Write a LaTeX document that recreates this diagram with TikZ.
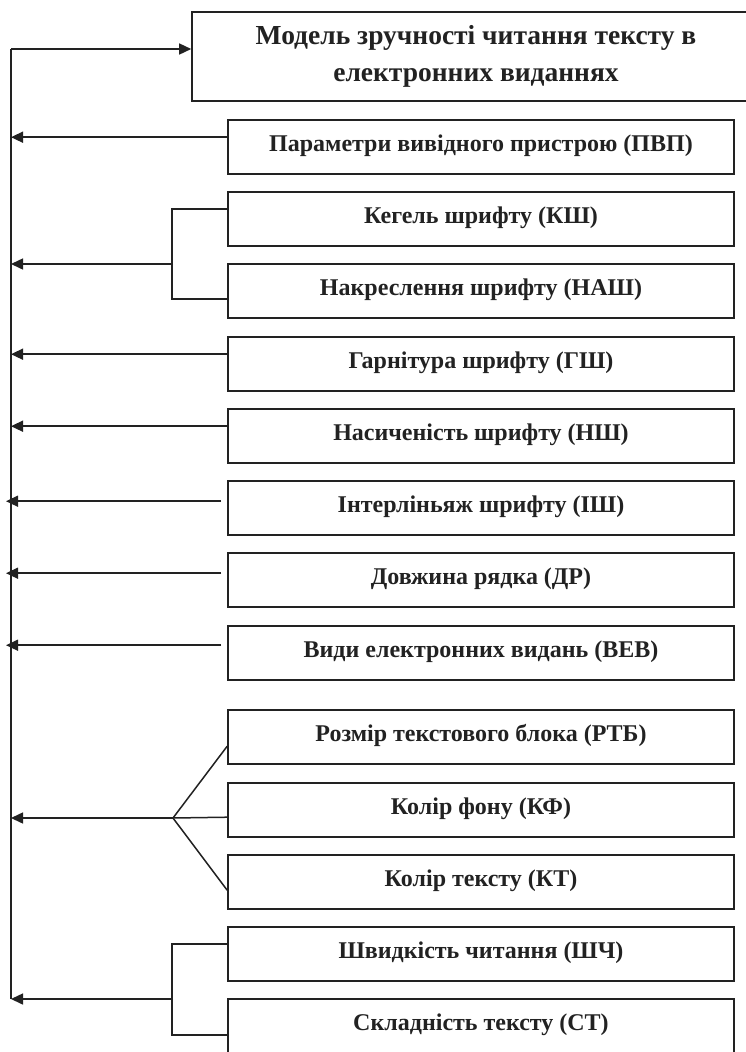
\documentclass[tikz,border=0pt]{standalone}
\usepackage{fontspec}
\setmainfont{Liberation Serif}
\usetikzlibrary{calc,arrows.meta}
\definecolor{ink}{HTML}{222222}
\tikzset{
  box/.style={draw=ink, line width=1.6pt, minimum width=506pt, minimum height=54pt,
    inner sep=0pt, text height=15pt, text depth=7pt, text=ink,
    font=\fontsize{24}{28}\selectfont\bfseries},
  titlebox/.style={draw=ink, line width=1.6pt, minimum width=568pt, minimum height=89pt,
    inner sep=0pt, align=center, text=ink,
    font=\fontsize{27.5}{35}\selectfont\bfseries},
  conn/.style={draw=ink, line width=1.5pt},
  arr/.style={conn, -{Triangle[length=12pt,width=11pt]}},
}
\begin{document}
\begin{tikzpicture}[x=1pt,y=-1pt]
\useasboundingbox (0,0) rectangle (746,1052);
\fill[white] (0,0) rectangle (746,1052);
\clip (0,0) rectangle (746,1052);
% title
\node[titlebox] (model) at (476,56.5) {\raisebox{2pt}{Модель зручності читання тексту в}\\електронних виданнях};
% boxes
\node[box] (pvp) at (481,147) {Параметри вивідного пристрою (ПВП)};
\node[box] (ksh) at (481,219) {Кегель шрифту (КШ)};
\node[box] (nash) at (481,291) {Накреслення шрифту (НАШ)};
\node[box] (gsh) at (481,364) {Гарнітура шрифту (ГШ)};
\node[box] (nsh) at (481,436) {Насиченість шрифту (НШ)};
\node[box] (ish) at (481,508) {Інтерліньяж шрифту (ІШ)};
\node[box] (dr) at (481,580) {Довжина рядка (ДР)};
\node[box] (vev) at (481,653) {Види електронних видань (ВЕВ)};
\node[box] (rtb) at (481,737) {Розмір текстового блока (РТБ)};
\node[box] (kf) at (481,810) {Колір фону (КФ)};
\node[box] (kt) at (481,882) {Колір тексту (КТ)};
\node[box] (shch) at (481,954) {Швидкість читання (ШЧ)};
\node[box, minimum height=58pt, text depth=11pt] (st) at (481,1028) {Складність тексту (СТ)};
% spine
\coordinate (spinetop) at (11,49);
\coordinate (spinebot) at (11,999);
\draw[conn] (spinebot) -- (spinetop);
\draw[arr] (spinetop) -- (spinetop -| model.west);
% single arrows touching boxes
\coordinate (aPVP) at ($(pvp.north west)+(0,18)$);
\draw[arr] (aPVP) -- (aPVP -| spinetop);
\coordinate (aGSH) at ($(gsh.north west)+(0,18)$);
\draw[arr] (aGSH) -- (aGSH -| spinetop);
\coordinate (aNSH) at ($(nsh.north west)+(0,18)$);
\draw[arr] (aNSH) -- (aNSH -| spinetop);
% single arrows with gap
\coordinate (aISH) at ($(ish.north west)+(-6,21)$);
\coordinate (tISH) at ($(aISH -| spinetop)+(-5,0)$);
\draw[arr] (aISH) -- (tISH);
\coordinate (aDR) at ($(dr.north west)+(-6,21)$);
\coordinate (tDR) at ($(aDR -| spinetop)+(-5,0)$);
\draw[arr] (aDR) -- (tDR);
\coordinate (aVEV) at ($(vev.north west)+(-6,20)$);
\coordinate (tVEV) at ($(aVEV -| spinetop)+(-5,0)$);
\draw[arr] (aVEV) -- (tVEV);
% bracket KSh / NASh
\coordinate (j1) at (173,264);
\draw[conn] ($(ksh.north west)+(0,18)$) -| ($(nash.north west)+(-55,36)$) -- ($(nash.north west)+(0,36)$);
\draw[arr] (j1) -- (j1 -| spinetop);
% fan RTB / KF / KT
\coordinate (j2) at (173,818);
\draw[conn] ($(rtb.north west)+(0,37)$) -- (j2) -- ($(kt.north west)+(0,36)$);
\draw[conn] ($(kf.north west)+(0,35)$) -- (j2);
\draw[arr] (j2) -- (j2 -| spinetop);
% bracket ShCh / ST
\coordinate (j3) at (173,999);
\draw[conn] ($(shch.north west)+(0,18)$) -| ($(st.north west)+(-55,37)$) -- ($(st.north west)+(0,37)$);
\draw[arr] (j3) -- (spinebot);
\end{tikzpicture}
\end{document}
